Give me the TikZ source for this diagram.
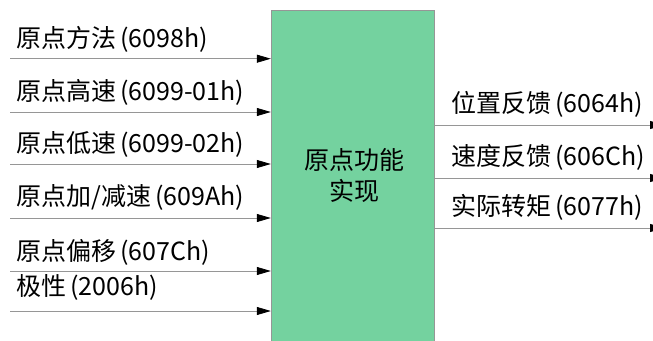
\documentclass[tikz,border=0pt]{standalone}
\usepackage{fontspec}
\newfontfamily\cjk{Noto Sans CJK SC}
\usepackage{xcolor}
\usetikzlibrary{arrows.meta,positioning}
\definecolor{boxgreen}{RGB}{116,210,159}
\definecolor{linegray}{RGB}{150,150,150}
\tikzset{
  lab/.style={anchor=west, inner sep=0pt, font=\cjk\fontsize{25}{30}\selectfont},
  sig/.style={draw=linegray, line width=0.8pt, -{Triangle[length=14pt,width=8pt,black]}}
}

\begin{document}
\begin{tikzpicture}[x=1pt, y=-1pt]
\clip (0,0) rectangle (653,340);
\node[draw=linegray, fill=boxgreen, minimum width=163pt, minimum height=340pt, inner sep=0pt] (origin) at (352.5,180) {};
\node[font=\cjk\fontsize{25}{31}\selectfont, align=center] (title) at (354,176) {原点功能\\实现};
% inputs
\coordinate (in1) at (10,58.7);
\coordinate (in2) at (10,112);
\coordinate (in3) at (10,164);
\coordinate (in4) at (10,218);
\coordinate (in5) at (10,271);
\coordinate (in6) at (10,311);
\draw[sig] (in1) -- (in1 -| origin.west);
\draw[sig] (in2) -- (in2 -| origin.west);
\draw[sig] (in3) -- (in3 -| origin.west);
\draw[sig] (in4) -- (in4 -| origin.west);
\draw[sig] (in5) -- (in5 -| origin.west);
\draw[sig] (in6) -- (in6 -| origin.west);
\node[lab] (method) at (16,39) {原点方法\,(6098h)};
\node[lab] (fast) at (16,92) {原点高速\,(6099-01h)};
\node[lab] (slow) at (16,144) {原点低速\,(6099-02h)};
\node[lab] (acc) at (16,197) {原点加/减速\,(609Ah)};
\node[lab] (offset) at (16,252) {原点偏移\,(607Ch)};
\node[lab] (polar) at (16,287) {极性\,(2006h)};
% outputs
\coordinate (out1) at (664,125);
\coordinate (out2) at (664,178);
\coordinate (out3) at (664,228);
\draw[sig] (out1 -| origin.east) -- (out1);
\draw[sig] (out2 -| origin.east) -- (out2);
\draw[sig] (out3 -| origin.east) -- (out3);
\node[lab] (pos) at (451,104) {位置反馈\,(6064h)};
\node[lab] (speed) at (451,157) {速度反馈\,(606Ch)};
\node[lab] (torque) at (451,207) {实际转矩\,(6077h)};
\end{tikzpicture}
\end{document}
